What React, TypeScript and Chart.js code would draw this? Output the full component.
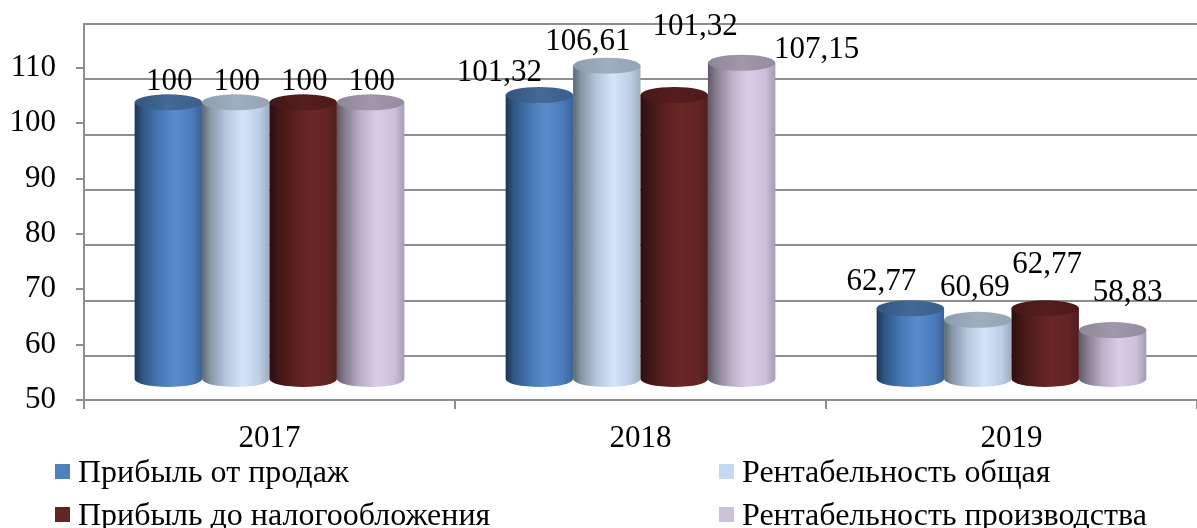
import React, { useEffect, useRef } from 'react';
import { Chart, registerables } from 'chart.js';

Chart.register(...registerables);

// ---------- data ----------
const CATEGORIES = ['2017', '2018', '2019'];
const SERIES_NAMES = [
  'Прибыль от продаж',
  'Рентабельность общая',
  'Прибыль до налогообложения',
  'Рентабельность производства',
];
const PROFIT_SALES = [100, 101.32, 62.77];
const PROFITABILITY_TOTAL = [100, 106.61, 60.69];
const PROFIT_BEFORE_TAX = [100, 101.32, 62.77];
const PROFITABILITY_PRODUCTION = [100, 107.15, 58.83];
const Y_TICKS = [50, 60, 70, 80, 90, 100, 110];
const GRID_VALUES = [60, 70, 80, 90, 100, 110, 120];
const BASE_VALUE = 50;

// ---------- style / layout constants ----------
const FONT = '"Liberation Serif", "Times New Roman", serif';
const AXIS_GRAY = '#8e8e8e';
const LEGEND_COLORS = ['#4f81bd', '#c6d9f1', '#632523', '#ccc1da'];
const NUM_FONT_SIZE = 31;

// label offsets (px) relative to the top of each cylinder, [series][category]
const LABEL_DX = [
  [1, -40, -29],
  [1, -19, -3],
  [1, 21, 2],
  [1, 75, 15],
];
const LABEL_DY = [
  [-20, -22, -26],
  [-20, -24, -32],
  [-20, -68, -43],
  [-20, -13, -37],
];

type Stops = [number, string][];
const PALETTES: { body: Stops; top: Stops }[] = [
  {
    body: [[0, '#1d3555'], [0.12, '#2f5684'], [0.35, '#4677b3'], [0.6, '#5a8ccc'], [0.85, '#4a7cbb'], [1, '#3a6398']],
    top: [[0, '#33557f'], [0.5, '#436996'], [1, '#3a5f8c']],
  },
  {
    body: [[0, '#5d6873'], [0.12, '#8795a5'], [0.35, '#b4c7dd'], [0.6, '#d2e5fb'], [0.85, '#bccfe6'], [1, '#9dabbd']],
    top: [[0, '#8d9cad'], [0.5, '#9eafc2'], [1, '#94a4b7']],
  },
  {
    body: [[0, '#2b0f0f'], [0.12, '#3f1616'], [0.35, '#5a1f1f'], [0.6, '#6c2727'], [0.85, '#632424'], [1, '#521d1d']],
    top: [[0, '#461717'], [0.5, '#551d1d'], [1, '#4c1a1a']],
  },
  {
    body: [[0, '#5e5868'], [0.12, '#857d8f'], [0.35, '#bbb0c8'], [0.6, '#dacde8'], [0.85, '#cbbfd9'], [1, '#a79cb4']],
    top: [[0, '#8f869a'], [0.5, '#a197ab'], [1, '#968ca1']],
  },
];

const fmt = (v: number) => String(v).replace('.', ',');

const cylinderPlugin = {
  id: 'cylinders',
  afterDatasetsDraw(chart: any) {
    const ctx: CanvasRenderingContext2D = chart.ctx;
    const ry = 8;
    chart.data.datasets.forEach((ds: any, di: number) => {
      const meta = chart.getDatasetMeta(di);
      const pal = PALETTES[di];
      meta.data.forEach((el: any) => {
        const { x, y, base, width } = el.getProps(['x', 'y', 'base', 'width'], true);
        const rx = width / 2;
        const left = x - rx;
        const right = x + rx;
        ctx.save();
        const g = ctx.createLinearGradient(left, 0, right, 0);
        pal.body.forEach(([s, c]) => g.addColorStop(s, c));
        ctx.beginPath();
        ctx.moveTo(left, y);
        ctx.lineTo(left, base);
        ctx.ellipse(x, base, rx, ry, 0, Math.PI, 0, true);
        ctx.lineTo(right, y);
        ctx.closePath();
        ctx.fillStyle = g;
        ctx.fill();
        const gt = ctx.createLinearGradient(left, 0, right, 0);
        pal.top.forEach(([s, c]) => gt.addColorStop(s, c));
        ctx.beginPath();
        ctx.ellipse(x, y, rx, ry, 0, 0, Math.PI * 2);
        ctx.fillStyle = gt;
        ctx.fill();
        ctx.restore();
      });
    });
    // data labels
    ctx.save();
    ctx.font = `${NUM_FONT_SIZE}px ${FONT}`;
    ctx.fillStyle = '#000';
    ctx.textAlign = 'center';
    ctx.textBaseline = 'middle';
    chart.data.datasets.forEach((ds: any, di: number) => {
      const meta = chart.getDatasetMeta(di);
      meta.data.forEach((el: any, i: number) => {
        const { x, y } = el.getProps(['x', 'y'], true);
        ctx.fillText(fmt(ds.data[i]), x + LABEL_DX[di][i], y + LABEL_DY[di][i]);
      });
    });
    ctx.restore();
  },
};

export default function App() {
  const ref = useRef<HTMLCanvasElement | null>(null);

  useEffect(() => {
    if (!ref.current) return;
    const seriesValues = [PROFIT_SALES, PROFITABILITY_TOTAL, PROFIT_BEFORE_TAX, PROFITABILITY_PRODUCTION];
    const chart = new Chart(ref.current, {
      type: 'bar',
      data: {
        labels: CATEGORIES,
        datasets: seriesValues.map((vals, i) => ({
          label: SERIES_NAMES[i],
          data: vals,
          yAxisID: 'yb',
          base: BASE_VALUE,
          backgroundColor: 'rgba(0,0,0,0)',
          borderWidth: 0,
          barPercentage: 1,
          categoryPercentage: 0.727,
        })),
      },
      options: {
        animation: false,
        responsive: false,
        devicePixelRatio: 1,
        layout: { padding: { left: 0, right: -3, top: 24, bottom: 0 } },
        plugins: {
          legend: { display: false },
          tooltip: { enabled: false },
        },
        scales: {
          x: {
            type: 'category',
            grid: {
              offset: true,
              drawOnChartArea: false,
              drawTicks: true,
              tickLength: 9,
              color: AXIS_GRAY,
              lineWidth: 2,
            },
            border: { display: true, color: AXIS_GRAY, width: 2 },
            ticks: { font: { family: FONT, size: NUM_FONT_SIZE }, color: '#000', padding: 11 },
            afterFit: (s: any) => { s.height = 128; s.paddingLeft = 0; s.paddingRight = 0; },
          },
          y: {
            type: 'linear',
            position: 'left',
            min: 50,
            max: 117.95,
            afterBuildTicks: (s: any) => { s.ticks = Y_TICKS.map((v) => ({ value: v })); },
            grid: {
              drawOnChartArea: false,
              drawTicks: true,
              tickLength: 8,
              color: AXIS_GRAY,
              lineWidth: 2,
            },
            border: { display: true, color: AXIS_GRAY, width: 2 },
            ticks: { font: { family: FONT, size: NUM_FONT_SIZE }, color: '#000', padding: 20 },
            afterFit: (s: any) => { s.width = 84; s.paddingTop = 0; s.paddingBottom = 0; },
          },
          yg: {
            type: 'linear',
            position: 'right',
            min: 52.05,
            max: 120,
            afterBuildTicks: (s: any) => { s.ticks = GRID_VALUES.map((v) => ({ value: v })); },
            grid: { drawTicks: false, color: AXIS_GRAY, lineWidth: 2 },
            border: { display: false },
            ticks: { display: false },
            afterFit: (s: any) => { s.width = 0; s.paddingTop = 0; s.paddingBottom = 0; },
          },
          yb: {
            type: 'linear',
            display: false,
            min: 46.2,
            max: 114.15,
          },
        },
      },
      plugins: [cylinderPlugin],
    } as any);
    return () => chart.destroy();
  }, []);

  return (
    <div style={{ position: 'fixed', left: 0, top: 0, width: 1197, height: 528, background: '#fff', overflow: 'hidden' }}>
      <canvas ref={ref} width={1197} height={528} style={{ display: 'block' }} />
      {SERIES_NAMES.map((name, i) => (
        <div
          key={name}
          style={{
            position: 'absolute',
            left: i % 2 ? 719 : 55,
            top: i < 2 ? 454 : 497,
            height: 34,
            lineHeight: '34px',
            display: 'flex',
            alignItems: 'center',
            fontFamily: FONT,
            fontSize: 32,
            color: '#000',
            whiteSpace: 'nowrap',
          }}
        >
          <span style={{ display: 'inline-block', width: 15, height: 15, background: LEGEND_COLORS[i], marginRight: 8 }} />
          {name}
        </div>
      ))}
    </div>
  );
}
